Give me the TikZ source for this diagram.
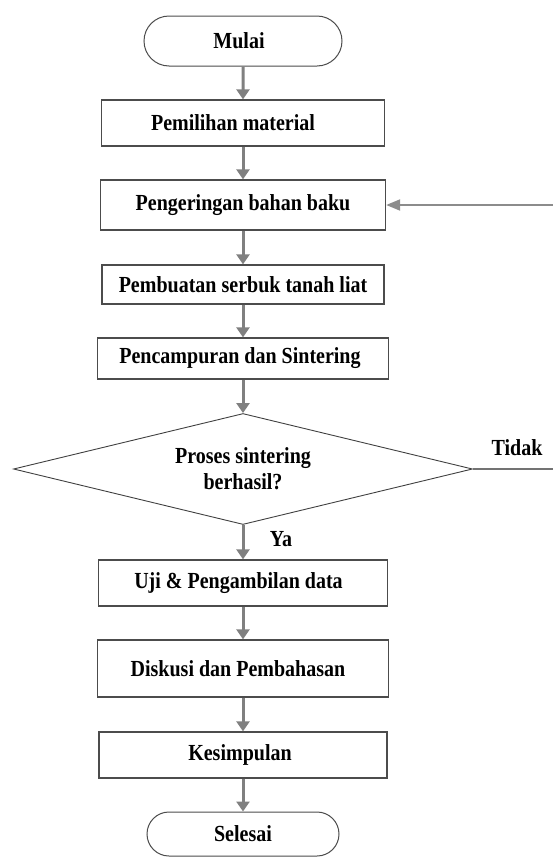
\documentclass[tikz,border=0pt]{standalone}
\usepackage{fontspec}
\setmainfont{Liberation Serif}[FakeStretch=0.87]
\usetikzlibrary{shapes.geometric,shapes.misc,arrows.meta}
\newcommand\flowfont{\fontsize{23}{26}\selectfont\bfseries}
\begin{document}
\begin{tikzpicture}[x=1pt,y=-1pt,
  box/.style={draw=black!70, line width=1.3pt, fill=white, inner sep=0pt, font=\flowfont},
  term/.style={rounded rectangle, draw=black!70, line width=1pt, fill=white, inner sep=0pt, font=\flowfont},
  dec/.style={diamond, draw=black!75, line width=0.9pt, aspect=4.1, inner sep=0pt,
              minimum width=459pt, minimum height=111pt, align=center, font=\flowfont},
  flow/.style={draw=black!50, line width=3pt, -{Triangle[width=13pt,length=10pt]}},
  back/.style={draw=black!45, line width=2pt, -{Triangle[width=11pt,length=14pt]}},
  plain/.style={draw=black!55, line width=1.3pt},
  lbl/.style={font=\flowfont, inner sep=0pt}]
\useasboundingbox (0,0) rectangle (553,857);

\node[term, minimum width=198pt, minimum height=50pt] (mulai) at (243,41) {Mulai\hspace*{8pt}};
\node[box, minimum width=283pt, minimum height=46pt] (pilih) at (243,123) {Pemilihan material\hspace*{20pt}};
\node[box, minimum width=285pt, minimum height=50pt] (kering) at (243,205) {Pengeringan bahan baku};
\node[box, minimum width=282pt, minimum height=39pt] (serbuk) at (243,284.5) {Pembuatan serbuk tanah liat};
\node[box, minimum width=291pt, minimum height=41pt] (campur) at (243,358.5) {Pencampuran dan Sintering\hspace*{6pt}};
\node[dec] (cek) at (243,469) {Proses sintering\\berhasil?};
\node[box, minimum width=289pt, minimum height=46pt] (uji) at (243,583) {Uji \& Pengambilan data\hspace*{9pt}};
\node[box, minimum width=291pt, minimum height=57pt] (diskusi) at (243,668.5) {Diskusi dan Pembahasan\hspace*{10pt}};
\node[box, minimum width=288pt, minimum height=46pt] (simpul) at (243,755) {Kesimpulan\hspace*{6pt}};
\node[term, minimum width=192pt, minimum height=44pt] (selesai) at (243,834) {Selesai};

\node[lbl] (ya) at (281,539) {Ya};
\node[lbl] (tidak) at (517,448) {Tidak};

\coordinate (kanan1) at (553,205);
\coordinate (kanan2) at (553,469);

\draw[flow] (mulai) -- (pilih);
\draw[flow] (pilih) -- (kering);
\draw[flow] (kering) -- (serbuk);
\draw[flow] (serbuk) -- (campur);
\draw[flow] (campur) -- (cek);
\draw[flow] (cek) -- (uji);
\draw[flow] (uji) -- (diskusi);
\draw[flow] (diskusi) -- (simpul);
\draw[flow] (simpul) -- (selesai);

\draw[plain] (cek.east) -- (kanan2);
\draw[back] (kanan1) -- (kering.east);
\end{tikzpicture}
\end{document}
